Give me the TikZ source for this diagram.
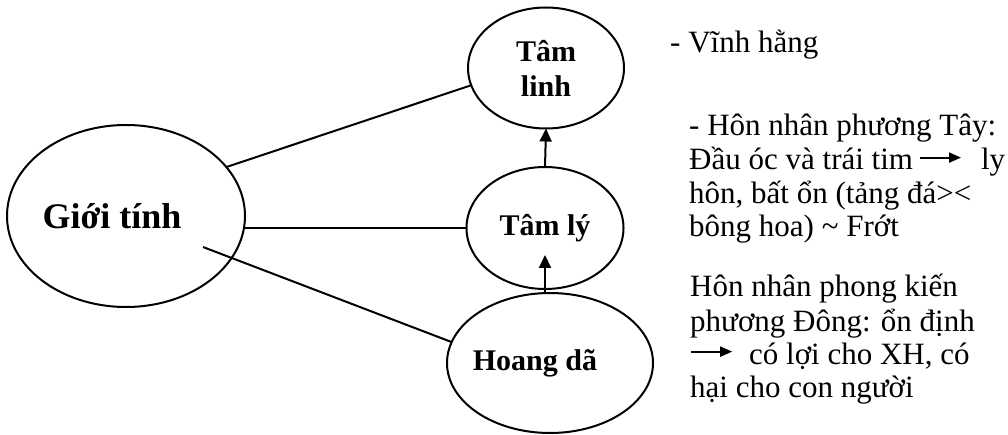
\documentclass[tikz,border=0pt]{standalone}
\usepackage{fontspec}
\setmainfont{Liberation Serif}
\usetikzlibrary{shapes.geometric,arrows.meta}
\newcommand{\rarw}{\tikz[baseline=-0.4em]\draw[line width=2pt,-{Triangle[length=12pt,width=10pt]}] (0pt,0pt) -- (41pt,0pt);}
\tikzset{
  ell/.style={ellipse, draw, line width=2pt, inner sep=0pt, outer sep=0pt,
    font=\bfseries\fontsize{30}{35}\selectfont},
  ln/.style={line width=2pt},
  arr/.style={line width=2pt, -{Triangle[length=13pt,width=12pt]}},
  rt/.style={anchor=base west, inner sep=0pt, font=\fontsize{31}{34}\selectfont}
}
\begin{document}
\begin{tikzpicture}[x=1pt,y=-1pt]
\useasboundingbox (0,0) rectangle (1008,435);
% ellipses
\node[ell, minimum width=238pt, minimum height=182pt, font=\bfseries\fontsize{36}{40}\selectfont] (gt) at (126,216) {\hspace*{-28pt}Giới tính};
\node[ell, minimum width=156pt, minimum height=121pt, align=center] (tl) at (546,68) {Tâm\\linh};
\node[ell, minimum width=157pt, minimum height=122pt] (tly) at (545,228) {Tâm lý};
\node[ell, minimum width=206pt, minimum height=140pt] (hd) at (550,363) {\hspace*{-30pt}Hoang dã};
% connectors
\draw[ln] (gt.26.6) -- (tl.193.7);
\draw[ln] (tly.west) -- (tly.west -| gt.east);
\coordinate (gin) at (203,247);
\draw[ln] (gin) -- (hd.168.5);
\draw[arr] (tly.north) -- (tl.south);
\coordinate (tip) at (545,255);
\draw[arr] (hd.north -| tly.south) -- (tip);
% right texts
\node[rt] (v1) at (670,53) {- Vĩnh hằng};
\node[rt] (a1) at (689,136) {- Hôn nhân phương Tây:};
\node[rt] (a2) at (689,170) {Đầu óc và trái tim\kern6pt\rarw\kern19pt ly};
\node[rt] (a3) at (689,204) {hôn, bất ổn (tảng đá><};
\node[rt] (a4) at (689,237) {bông hoa) \textasciitilde{} Frớt};
\node[rt] (b1) at (690,297) {Hôn nhân phong kiến};
\node[rt] (b2) at (690,331) {phương Đông: ổn định};
\node[rt] (b3) at (690,364) {\rarw\kern16pt có lợi cho XH, có};
\node[rt] (b4) at (690,397) {hại cho con người};
\end{tikzpicture}
\end{document}
